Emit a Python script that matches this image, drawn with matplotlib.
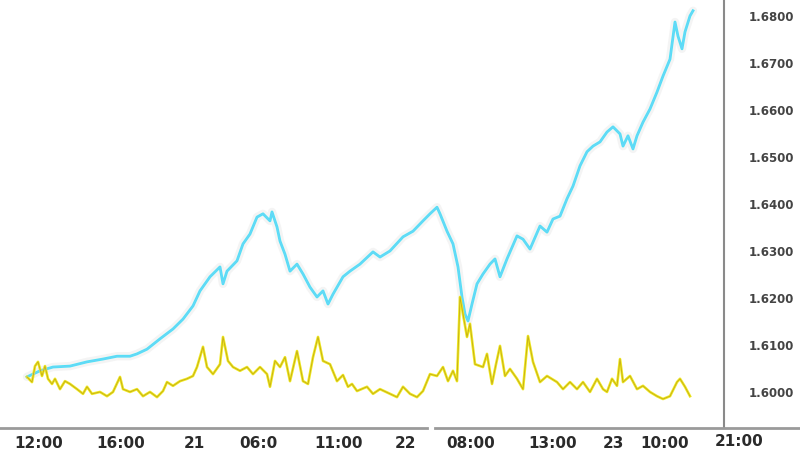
import numpy as np
import matplotlib
matplotlib.use("Agg")
import matplotlib.pyplot as plt
from matplotlib import transforms

# horizontal position on the time scale
price_t = [27, 40, 53, 70, 87, 103, 117, 130, 137, 147, 160, 173, 183, 193, 200,
           210, 220, 223, 227, 237, 243, 250, 257, 263, 270, 272, 277, 280, 285,
           290, 297, 303, 310, 317, 323, 328, 333, 343, 350, 360, 373, 380, 390,
           403, 413, 423, 430, 437, 440, 447, 453, 458, 462, 465, 468, 472, 477,
           483, 490, 495, 500, 507, 517, 523, 530, 540, 547, 553, 560, 567, 573,
           580, 587, 593, 600, 607, 613, 620, 623, 628, 633, 637, 643, 650, 657,
           663, 670, 675, 678, 682, 685, 690, 693]
price = [1.6030, 1.6043, 1.6051, 1.6053, 1.6062, 1.6068, 1.6074, 1.6074, 1.6079,
         1.6089, 1.6111, 1.6132, 1.6153, 1.6181, 1.6213, 1.6243, 1.6264, 1.6228,
         1.6255, 1.6277, 1.6313, 1.6334, 1.6370, 1.6377, 1.6362, 1.6381, 1.6349,
         1.6319, 1.6291, 1.6255, 1.6270, 1.6249, 1.6221, 1.6200, 1.6213, 1.6185,
         1.6206, 1.6243, 1.6255, 1.6270, 1.6296, 1.6285, 1.6298, 1.6328, 1.6340,
         1.6362, 1.6377, 1.6391, 1.6377, 1.6340, 1.6313, 1.6264, 1.6200, 1.6164,
         1.6149, 1.6185, 1.6228, 1.6249, 1.6270, 1.6281, 1.6243, 1.6281, 1.6330,
         1.6323, 1.6302, 1.6351, 1.6338, 1.6366, 1.6372, 1.6409, 1.6436, 1.6479,
         1.6509, 1.6521, 1.6530, 1.6551, 1.6562, 1.6547, 1.6521, 1.6543, 1.6515,
         1.6543, 1.6572, 1.6600, 1.6636, 1.6670, 1.6706, 1.6785, 1.6755, 1.6728,
         1.6764, 1.6798, 1.6809]

vol_t = [27, 32, 35, 38, 42, 45, 48, 52, 55, 60, 65, 70, 77, 83, 87, 92, 100,
         107, 113, 120, 123, 130, 137, 143, 150, 157, 163, 167, 173, 180, 187,
         193, 197, 203, 207, 213, 220, 223, 228, 233, 240, 247, 253, 260, 267,
         270, 275, 280, 285, 290, 297, 303, 308, 313, 318, 323, 330, 337, 343,
         348, 352, 357, 367, 373, 380, 390, 397, 403, 410, 417, 423, 430, 437,
         443, 448, 453, 457, 460, 463, 467, 470, 475, 483, 487, 492, 496, 500,
         505, 510, 517, 523, 528, 533, 540, 547, 557, 563, 570, 577, 583, 590,
         597, 603, 607, 612, 617, 620, 623, 630, 637, 643, 650, 657, 663, 670,
         677, 680, 685, 690]
vol = [1.6030, 1.6019, 1.6053, 1.6062, 1.6032, 1.6053, 1.6026, 1.6015, 1.6026,
       1.6004, 1.6021, 1.6015, 1.6004, 1.5994, 1.6009, 1.5994, 1.5998, 1.5989,
       1.5998, 1.6030, 1.6004, 1.5998, 1.6004, 1.5989, 1.5998, 1.5987, 1.6000,
       1.6019, 1.6011, 1.6021, 1.6026, 1.6032, 1.6051, 1.6094, 1.6051, 1.6036,
       1.6057, 1.6115, 1.6064, 1.6051, 1.6043, 1.6051, 1.6036, 1.6051, 1.6036,
       1.6009, 1.6064, 1.6051, 1.6072, 1.6021, 1.6085, 1.6021, 1.6015, 1.6072,
       1.6115, 1.6064, 1.6057, 1.6021, 1.6034, 1.6009, 1.6015, 1.6000, 1.6009,
       1.5994, 1.6004, 1.5994, 1.5987, 1.6009, 1.5994, 1.5987, 1.6000, 1.6036,
       1.6032, 1.6051, 1.6021, 1.6043, 1.6021, 1.6200, 1.6164, 1.6115, 1.6143,
       1.6057, 1.6051, 1.6079, 1.6015, 1.6057, 1.6096, 1.6032, 1.6047, 1.6026,
       1.6004, 1.6117, 1.6062, 1.6019, 1.6032, 1.6019, 1.6004, 1.6019, 1.6004,
       1.6019, 1.5998, 1.6026, 1.6004, 1.5998, 1.6026, 1.6011, 1.6068, 1.6019,
       1.6032, 1.6004, 1.6011, 1.5998, 1.5989, 1.5983, 1.5989, 1.6019, 1.6026,
       1.6009, 1.5989]

tick_pos = [39, 121, 194, 258, 339, 405, 471, 553, 613, 665]
tick_labels = ["12:00", "16:00", "21", "06:0", "11:00", "22", "08:00",
               "13:00", "23", "10:00"]
last_tick_pos = 739
last_tick_label = "21:00"
y_ticks = [1.60, 1.61, 1.62, 1.63, 1.64, 1.65, 1.66, 1.67, 1.68]

fig = plt.figure(figsize=(8, 4.64), dpi=100)
fig.patch.set_facecolor("white")
ax = fig.add_axes([0, 35 / 464, 724 / 800, 429 / 464])
ax.set_facecolor("white")

# faint halo under the price line
ax.plot(price_t, price, color="#f4f4f4", lw=6, solid_capstyle="round", zorder=1)
ax.plot(price_t, price, color="#52e2f4", lw=2.0, zorder=3)
ax.plot(price_t, price, color="#7fc6ff", lw=0.6, alpha=0.6, zorder=4)

ax.plot(vol_t, vol, color="#f0ea22", lw=1.9, zorder=3)
ax.plot(vol_t, vol, color="#a8820e", lw=0.6, alpha=0.6, zorder=4)

ax.set_xlim(0, 724)
ax.set_ylim(1.59213, 1.6834)

ax.yaxis.tick_right()
ax.set_yticks(y_ticks)
ax.set_yticklabels(["{:.4f}".format(v) for v in y_ticks])
ax.tick_params(axis="y", length=0, pad=18, labelsize=8.5, labelcolor="#444444")
ax.set_xticks(tick_pos)
ax.set_xticklabels(tick_labels)
ax.tick_params(axis="x", length=0, pad=5, labelsize=11, labelcolor="#2a2a2a")
for lab in ax.get_xticklabels():
    lab.set_fontweight("bold")
for lab in ax.get_yticklabels():
    lab.set_fontweight("bold")

trans = transforms.blended_transform_factory(ax.transData, ax.transAxes)
ax.text(last_tick_pos, -13 / 429, last_tick_label, transform=trans,
        ha="center", va="center", fontsize=11, fontweight="bold",
        color="#2a2a2a", clip_on=False)

for s in ["top", "left", "bottom"]:
    ax.spines[s].set_visible(False)
ax.spines["right"].set_color("#8a8a8a")
ax.spines["right"].set_linewidth(1.5)

# bottom axis line, runs across the whole width with a small break
ax.plot([0, 427 / 724], [0, 0], transform=ax.transAxes, color="#9a9a9a",
        lw=2, clip_on=False, zorder=5)
ax.plot([435 / 724, 800 / 724], [0, 0], transform=ax.transAxes,
        color="#9a9a9a", lw=2, clip_on=False, zorder=5)

fig.savefig("out.png", dpi=100, facecolor="white")
